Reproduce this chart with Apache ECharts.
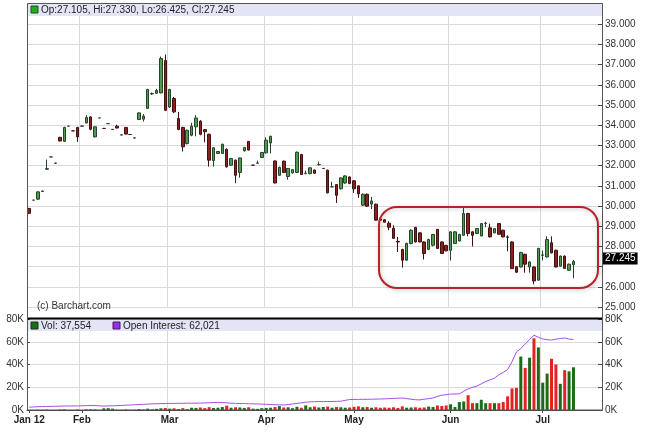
<!DOCTYPE html>
<html><head><meta charset="utf-8">
<script src="https://cdn.jsdelivr.net/npm/echarts@6/dist/echarts.min.js"></script>
<style>html,body{margin:0;padding:0;background:#fff}#c{width:645px;height:434px}</style>
</head><body><div id="c"></div>
<script>
const opens = [29.88,30.29,30.34,30.72,31.82,32.43,32.12,33.40,33.20,33.95,
33.72,33.89,33.95,34.11,34.41,33.42,34.36,33.84,34.08,33.79,
33.95,33.52,33.89,33.54,33.37,34.28,34.30,34.83,35.55,35.58,
35.60,37.20,34.90,35.32,34.33,33.89,33.09,33.50,33.92,34.20,
33.78,33.55,32.25,32.60,32.60,32.81,32.02,32.27,31.66,32.73,
33.20,32.02,32.12,32.40,32.63,33.12,32.23,31.52,32.22,31.46,
31.64,31.66,32.55,31.60,31.60,31.78,32.05,31.86,31.77,30.95,
31.06,30.85,31.14,31.44,31.25,31.00,30.04,30.58,30.10,30.09,
29.35,29.32,29.15,28.90,28.25,27.85,27.32,28.14,28.94,28.67,
28.22,27.85,28.06,28.84,28.22,28.05,27.81,28.14,28.27,28.55,
29.63,28.72,28.64,28.52,29.13,28.92,28.67,29.13,28.80,28.47,
28.22,26.99,26.98,27.61,26.98,26.98,26.33,27.56,27.48,28.18,
27.81,27.02,27.52,26.82,27.105];
const closes = [29.64,30.29,30.70,30.74,31.85,32.43,32.12,33.22,33.89,33.95,
33.72,33.42,33.96,34.38,33.80,33.92,34.36,33.84,34.08,33.79,
33.86,33.52,33.56,33.54,33.37,34.61,34.45,35.77,35.57,35.72,
37.30,34.74,35.77,34.66,33.79,32.93,33.75,33.95,34.36,33.55,
33.68,32.27,32.88,32.70,33.06,31.94,32.35,31.52,32.38,32.90,
32.77,32.02,32.13,32.65,33.26,33.45,31.14,31.91,31.66,31.86,
31.80,32.66,31.56,31.62,31.89,31.62,32.05,31.86,30.65,30.95,
30.53,31.39,31.49,31.11,30.85,30.60,30.58,29.99,30.25,29.30,
29.30,29.20,28.95,28.40,28.22,27.32,28.15,28.80,28.22,28.22,
27.65,28.34,28.59,27.90,27.65,27.78,28.72,28.72,28.59,29.63,
28.64,28.55,28.88,29.13,29.15,28.47,28.88,28.60,28.47,28.45,
26.90,26.72,27.70,27.12,27.23,26.29,27.90,27.58,28.34,27.68,
26.98,27.52,26.91,27.12,27.245];
const lows = [29.60,30.29,30.30,30.70,31.80,32.43,32.12,33.20,33.18,33.95,
33.72,33.17,33.95,34.10,33.75,33.40,34.36,33.84,34.08,33.79,
33.84,33.52,33.55,33.54,33.37,34.26,34.18,34.80,35.50,35.55,
35.58,34.70,34.85,34.60,33.75,32.70,33.05,33.45,33.45,33.50,
33.15,31.95,31.95,32.58,32.58,31.90,32.00,31.13,31.40,32.70,
32.75,32.02,32.10,32.38,32.60,32.60,31.12,31.50,31.64,31.30,
31.60,31.64,31.54,31.58,31.58,31.60,32.00,31.86,30.62,30.93,
30.15,30.82,31.10,31.08,30.65,30.40,30.00,29.95,29.85,29.28,
29.28,29.18,28.80,28.38,27.72,26.95,27.30,28.10,28.20,28.20,
27.35,27.82,28.00,27.88,27.62,27.76,27.30,28.12,28.25,28.52,
28.50,28.00,28.62,28.50,28.95,28.45,28.65,28.58,28.45,27.76,
26.88,26.70,26.96,26.70,26.70,26.12,26.30,27.30,27.45,27.65,
26.96,27.00,26.88,26.80,26.425];
const highs = [29.90,30.29,30.72,30.76,32.30,32.43,32.12,33.42,33.92,33.95,
33.72,33.92,33.98,34.50,34.45,33.95,34.36,33.84,34.08,33.79,
34.02,33.52,33.90,33.54,33.37,34.63,34.55,35.80,35.62,35.80,
37.40,37.50,35.80,35.40,34.66,33.92,33.78,34.12,34.50,34.25,
33.80,33.58,32.92,32.72,33.08,32.85,32.38,32.30,32.40,32.92,
33.22,32.02,32.25,32.68,33.40,33.48,32.25,31.95,32.25,31.88,
31.82,32.70,32.58,31.75,31.92,31.80,32.20,31.88,31.80,31.20,
31.08,31.42,31.52,31.46,31.28,31.02,30.62,30.62,30.45,30.12,
29.38,29.34,29.25,29.05,28.47,27.88,28.18,28.85,28.97,28.70,
28.25,28.38,28.62,28.87,28.25,28.08,28.75,28.75,28.62,29.97,
29.66,28.75,28.90,29.16,29.22,29.13,28.90,29.16,28.83,28.55,
28.25,27.02,27.73,27.64,27.26,27.01,27.93,27.80,28.50,28.50,
27.84,27.55,27.55,27.15,27.33];
const volumeK = [0.1,0,0.2,0,0.3,0,0,0.4,0.5,0,
0,0.4,0,0.5,0.6,0.5,0,1.5,1.6,1.2,
0.2,0.1,0.4,0.1,0.2,0.8,0.5,1.2,0.6,1.0,
1.5,1.8,1.2,1.5,0.9,1.6,0.8,2.0,1.8,2.2,
1.6,2.5,1.8,2.0,2.6,3.8,2.0,2.4,2.2,1.8,
2.4,1.2,1.0,1.6,1.8,2.0,2.6,3.4,2.2,2.4,
1.6,2.8,2.0,4.0,2.4,3.0,2.2,2.6,3.0,2.0,
2.6,2.4,2.0,2.2,2.8,3.2,2.4,2.6,2.0,2.4,
2.0,2.2,2.0,2.4,1.8,3.2,2.0,2.2,2.4,2.0,
2.2,3.0,2.6,4.0,3.6,4.0,5.0,2.6,7.0,7.5,
13,6,6,9,6,6,6,6,7,12,
19,19.5,47,37,46,63,55,24,32,45,
40,23,35,34,37.554];
const openInterestK = [2.5,2.7,2.9,3.0,3.1,3.2,3.3,3.4,3.5,3.5,
3.6,3.6,3.7,3.8,3.9,4.0,3.6,3.5,3.6,3.7,
3.8,4.0,4.2,4.4,4.6,4.8,5.0,5.2,5.4,5.5,
5.6,5.7,5.8,5.8,5.9,5.9,6.0,6.0,6.0,6.1,
6.2,6.4,6.6,6.7,6.6,6.3,6.0,5.8,5.7,5.6,
5.5,5.4,5.3,5.2,5.0,4.8,4.6,4.5,4.4,4.8,
5.3,5.8,6.3,6.8,7.2,7.3,7.4,7.4,7.5,7.5,
7.6,7.7,8.5,9.2,9.3,9.3,9.4,9.4,9.5,9.6,
9.7,9.8,10.0,10.2,10.4,10.5,10.0,9.5,9.0,8.9,
9.5,10.0,10.5,12.0,13.0,13.5,14.0,14.0,14.2,16.5,
18.5,20.0,21.0,23.0,25.0,26.5,28.0,31.0,33.0,35.5,
42.5,51.0,54.0,58.0,62.0,65.7,64.0,62.5,61.8,61.5,
62.3,62.8,63.3,62.3,62.021];
const tickIndex = [0,12,32,54,74,96,117];
const tickText = ['Jan 12','Feb','Mar','Apr','May','Jun','Jul'];
const slotCount = 131;

const cats = [];
for (let i = 0; i < slotCount; i++) cats.push(String(i));
const candleData = opens.map((o, i) => [o, closes[i], lows[i], highs[i]]);
const UPV = '#1d6a1d', DNV = '#e52222';
const volData = volumeK.map((v, i) => ({value: v, itemStyle: {color: closes[i] >= opens[i] ? UPV : DNV}}));
const isTick = (i) => tickIndex.indexOf(i) >= 0;
const n = opens.length - 1;
const f3 = (v) => v.toFixed(3);
const fmtInt = (k) => Math.round(k * 1000).toLocaleString('en-US');
const FONT = '"Liberation Sans", Arial, sans-serif';

const chart = echarts.init(document.getElementById('c'), null, {renderer: 'canvas'});
chart.setOption({
  animation: false,
  backgroundColor: '#fff',
  textStyle: {fontFamily: FONT},
  grid: [
    {left: 27, right: 43, top: 4, height: 303},
    {left: 27, right: 43, top: 319, height: 91}
  ],
  xAxis: [
    {type: 'category', gridIndex: 0, data: cats, boundaryGap: true,
     axisLine: {show: false}, axisTick: {show: false}, axisLabel: {show: false},
     splitLine: {show: true, interval: (i) => isTick(i), lineStyle: {color: '#dadada'}}},
    {type: 'category', gridIndex: 1, data: cats, boundaryGap: true,
     axisLine: {show: true, lineStyle: {color: '#444'}},
     axisTick: {show: true, interval: (i) => isTick(i), alignWithLabel: true, length: 3, lineStyle: {color: '#444'}},
     axisLabel: {interval: (i) => isTick(i), formatter: (v, i) => tickText[tickIndex.indexOf(Number(v))] || '',
       fontWeight: 'bold', fontSize: 10, color: '#222', margin: 5, fontFamily: FONT},
     splitLine: {show: true, interval: (i) => isTick(i), lineStyle: {color: '#dadada'}}}
  ],
  yAxis: [
    {type: 'value', gridIndex: 0, position: 'right', min: 25, max: 40, interval: 1,
     axisLine: {show: true, lineStyle: {color: '#444'}},
     axisTick: {show: true, inside: true, length: 4, lineStyle: {color: '#444'}},
     axisLabel: {formatter: (v) => (v >= 40 || v === 27) ? '' : f3(v), fontSize: 10, color: '#333', margin: 3, fontFamily: FONT},
     splitLine: {show: true, lineStyle: {color: '#dadada'}}},
    {type: 'value', gridIndex: 1, position: 'right', min: 0, max: 80, interval: 20,
     axisLine: {show: true, lineStyle: {color: '#444'}},
     axisTick: {show: true, inside: true, length: 4, lineStyle: {color: '#444'}},
     axisLabel: {formatter: (v) => v + 'K', fontSize: 10, color: '#333', margin: 3, fontFamily: FONT},
     splitLine: {show: true, lineStyle: {color: '#dadada'}}},
    {type: 'value', gridIndex: 1, position: 'left', min: 0, max: 80, interval: 20,
     axisLine: {show: false},
     axisTick: {show: true, inside: true, length: 3, lineStyle: {color: '#444'}},
     axisLabel: {formatter: (v) => v + 'K', fontSize: 10, color: '#333', margin: 3, fontFamily: FONT},
     splitLine: {show: false}}
  ],
  series: [
    {type: 'candlestick', xAxisIndex: 0, yAxisIndex: 0, data: candleData, barWidth: 3,
     itemStyle: {color: '#4e9a4e', color0: '#8e2020', borderColor: '#24452a', borderColor0: '#3e1212', borderWidth: 1},
     markLine: {silent: true, symbol: 'none', data: [{yAxis: closes[n]}],
       lineStyle: {color: 'rgba(0,0,0,0)', width: 0},
       label: {show: true, position: 'end', distance: 1, offset: [0, -3], formatter: () => f3(closes[n]),
         backgroundColor: '#000', color: '#fff', padding: [1, 2], fontSize: 10, fontFamily: FONT}}},
    {type: 'bar', xAxisIndex: 1, yAxisIndex: 1, data: volData, barWidth: 3},
    {type: 'line', xAxisIndex: 1, yAxisIndex: 1, data: openInterestK, symbol: 'none',
     lineStyle: {color: '#a64ee6', width: 1}}
  ],
  graphic: [
    {type: 'rect', z: 50, shape: {x: 28, y: 4, width: 574, height: 12}, style: {fill: '#e4e4f7'}},
    {type: 'rect', z: 51, shape: {x: 31, y: 6, width: 7, height: 7}, style: {fill: '#22aa22', stroke: '#145214', lineWidth: 1}},
    {type: 'text', z: 51, x: 41, y: 10, style: {text: 'Op:' + f3(opens[n]) + ', Hi:' + f3(highs[n]) + ', Lo:' + f3(lows[n]) + ', Cl:' + f3(closes[n]),
      fill: '#222', font: '10px ' + FONT, verticalAlign: 'middle'}},
    {type: 'text', z: 51, x: 37, y: 306, style: {text: '(c) Barchart.com', fill: '#333', font: '10px ' + FONT, verticalAlign: 'middle'}},
    {type: 'rect', z: 50, shape: {x: 28, y: 320, width: 574, height: 11}, style: {fill: '#e4e4f7'}},
    {type: 'rect', z: 51, shape: {x: 31, y: 322, width: 7, height: 7}, style: {fill: UPV, stroke: '#0d3a0d', lineWidth: 1}},
    {type: 'text', z: 51, x: 41, y: 326, style: {text: 'Vol: ' + fmtInt(volumeK[n]), fill: '#222', font: '10px ' + FONT, verticalAlign: 'middle'}},
    {type: 'rect', z: 51, shape: {x: 113, y: 322, width: 7, height: 7}, style: {fill: '#9b30e0', stroke: '#4a1470', lineWidth: 1}},
    {type: 'text', z: 51, x: 123, y: 326, style: {text: 'Open Interest: ' + fmtInt(openInterestK[n]), fill: '#222', font: '10px ' + FONT, verticalAlign: 'middle'}},
    {type: 'line', z: 52, shape: {x1: 27, y1: 318.5, x2: 603, y2: 318.5}, style: {stroke: '#000', lineWidth: 2}},
    {type: 'rect', z: 52, shape: {x: 27.5, y: 3.5, width: 575, height: 406.5}, style: {fill: null, stroke: '#555', lineWidth: 1}},
    {type: 'rect', z: 53, shape: {x: 379, y: 207, width: 219, height: 81, r: 18},
     style: {fill: null, stroke: '#b7222b', lineWidth: 2, shadowBlur: 4, shadowColor: 'rgba(0,0,0,0.25)', shadowOffsetX: 1, shadowOffsetY: 1}}
  ]
});
</script>
</body></html>
